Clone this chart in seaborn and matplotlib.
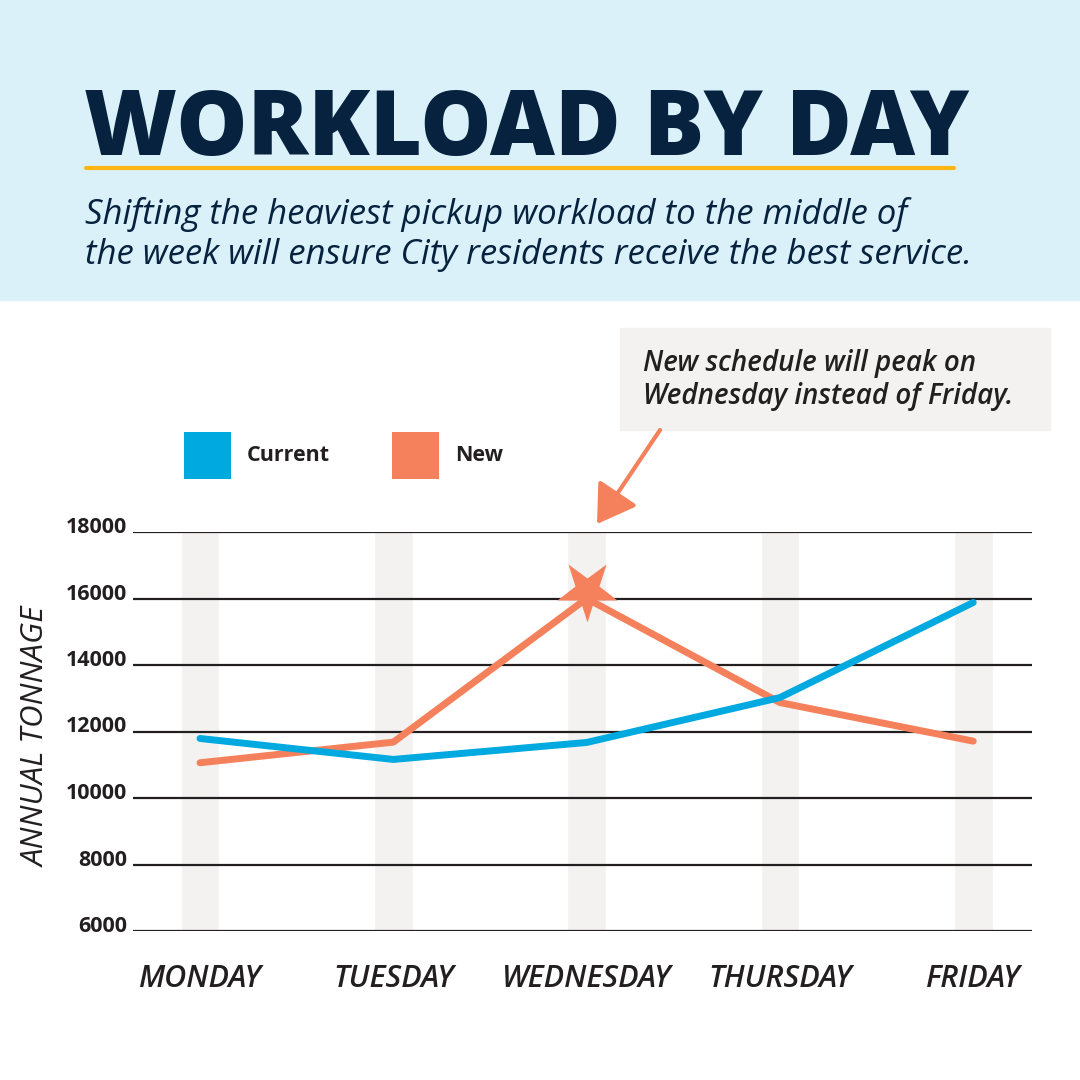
import matplotlib
matplotlib.use("Agg")
import matplotlib.pyplot as plt
import matplotlib.transforms as mtransforms
from matplotlib.patches import Rectangle, Patch, FancyArrowPatch
from matplotlib.lines import Line2D
from matplotlib.markers import MarkerStyle
import numpy as np
import pandas as pd
import seaborn as sns

# -------- data --------
days = ["MONDAY", "TUESDAY", "WEDNESDAY", "THURSDAY", "FRIDAY"]
current = [11790, 11160, 11670, 13020, 15880]
new = [11060, 11680, 16000, 12870, 11710]
series_names = ["Current", "New"]
y_ticks = [6000, 8000, 10000, 12000, 14000, 16000, 18000]

title = "WORKLOAD BY DAY"
subtitle = [
    "Shifting the heaviest pickup workload to the middle of",
    "the week will ensure City residents receive the best service.",
]
note = "New schedule will peak on\nWednesday instead of Friday."
ylabel = "ANNUAL TONNAGE"

# -------- colours --------
BLUE = "#00A9DF"
ORANGE = "#F4815B"
NAVY = "#06223F"
INK = "#231F20"
BAND = "#F3F2F1"
HEADER = "#DAF1FA"
GOLD = "#FDB714"

df = pd.DataFrame({
    "day": days * 2,
    "tons": current + new,
    "series": [series_names[0]] * len(days) + [series_names[1]] * len(days),
})

sns.set_theme(style="white")
plt.rcParams["font.family"] = ["Open Sans", "DejaVu Sans"]

W = H = 1080
fig = plt.figure(figsize=(10.8, 10.8), dpi=100)
fig.patch.set_facecolor("white")


def fx(px):
    return px / W


def fy(py):
    return 1 - py / H


# -------- header --------
fig.add_artist(Rectangle((0, fy(300)), 1, 300 / H, transform=fig.transFigure,
                         color=HEADER, zorder=0))
fig.text(fx(84), fy(155), title, fontsize=64.5, fontweight="heavy", color=NAVY,
         va="baseline", ha="left")
fig.add_artist(Line2D([fx(86), fx(954)], [fy(168), fy(168)], transform=fig.transFigure,
                      color=GOLD, lw=3, solid_capstyle="round"))
for line, base in zip(subtitle, [224, 264]):
    fig.text(fx(85), fy(base), line, fontsize=25, style="italic", color=NAVY,
             va="baseline", ha="left")

# -------- chart --------
ax = fig.add_axes([fx(133), fy(931), fx(1032) - fx(133), (931 - 532) / H])
ax.bar(days, height=y_ticks[-1] - y_ticks[0], bottom=y_ticks[0], width=0.2,
       color=BAND, zorder=0)
sns.lineplot(data=df, x="day", y="tons", hue="series", palette=[BLUE, ORANGE],
             linewidth=5, legend=False, sort=False, ax=ax)
for ln in ax.lines:
    ln.set_solid_capstyle("round")
    ln.set_solid_joinstyle("round")
ax.lines[0].set_zorder(3)

# star on the new peak
peak = int(np.argmax(new))
star = MarkerStyle("*", transform=mtransforms.Affine2D().rotate_deg(180))
off = mtransforms.offset_copy(ax.transData, fig=fig, x=0, y=9, units="dots")
ax.plot([days[peak]], [new[peak]], marker=star, markersize=46, color=ORANGE,
        markeredgecolor="none", linestyle="none", transform=off, zorder=4, clip_on=False)

ax.set_xlim(-0.3466, 4.304)
ax.set_ylim(y_ticks[0], y_ticks[-1])
ax.set_yticks(y_ticks)
ax.set_yticklabels([str(v) for v in y_ticks], fontsize=15.5, fontweight="bold", color=INK)
ax.set_xticks(range(len(days)))
ax.set_xticklabels(days, fontsize=22, style="italic", fontweight="semibold", color=INK)
ax.tick_params(axis="y", length=0, pad=4)
ax.tick_params(axis="x", length=0, pad=24)
for lab in ax.get_yticklabels():
    lab.set_transform(lab.get_transform()
                      + mtransforms.ScaledTranslation(0, 7 / 100, fig.dpi_scale_trans))
ax.yaxis.grid(True, color=INK, lw=1.6)
ax.xaxis.grid(False)
ax.set_axisbelow("line")
for s in ax.spines.values():
    s.set_visible(False)
ax.set_xlabel("")
ax.set_ylabel("")
ax.patch.set_alpha(0)

fig.text(fx(37), fy(737), ylabel, rotation=90, ha="center", va="center",
         fontsize=22.5, style="italic", fontweight="medium", color=INK)

# -------- legend --------
fs_px = 15.5 * 100 / 72
hl = 47 / fs_px
hh = (47 / fs_px - 0.245) / 0.65
handles = [Patch(facecolor=BLUE, edgecolor="none"), Patch(facecolor=ORANGE, edgecolor="none")]
fig.legend(handles, series_names, loc="center left", bbox_to_anchor=(fx(184), fy(455)),
           ncol=2, frameon=False, prop=dict(weight="bold", size=15.5), labelcolor=INK,
           handlelength=hl, handleheight=hh, handletextpad=16 / fs_px,
           columnspacing=62 / fs_px, borderpad=0, borderaxespad=0)

# -------- annotation --------
fig.add_artist(Rectangle((fx(620), fy(430)), fx(1050) - fx(620), (430 - 328) / H,
                         transform=fig.transFigure, color=BAND, zorder=1))
fig.text(fx(643), fy(380), note, ha="left", va="center", fontsize=20, style="italic",
         fontweight="semibold", linespacing=1.2, color=INK, zorder=2)
fig.add_artist(FancyArrowPatch(posA=(fx(660), fy(430)), posB=(fx(597), fy(524)),
                               transform=fig.transFigure,
                               arrowstyle="-|>,head_length=1.15,head_width=0.72",
                               mutation_scale=20, lw=3, color=ORANGE,
                               shrinkA=0, shrinkB=0))

fig.savefig("out.png", dpi=100)
